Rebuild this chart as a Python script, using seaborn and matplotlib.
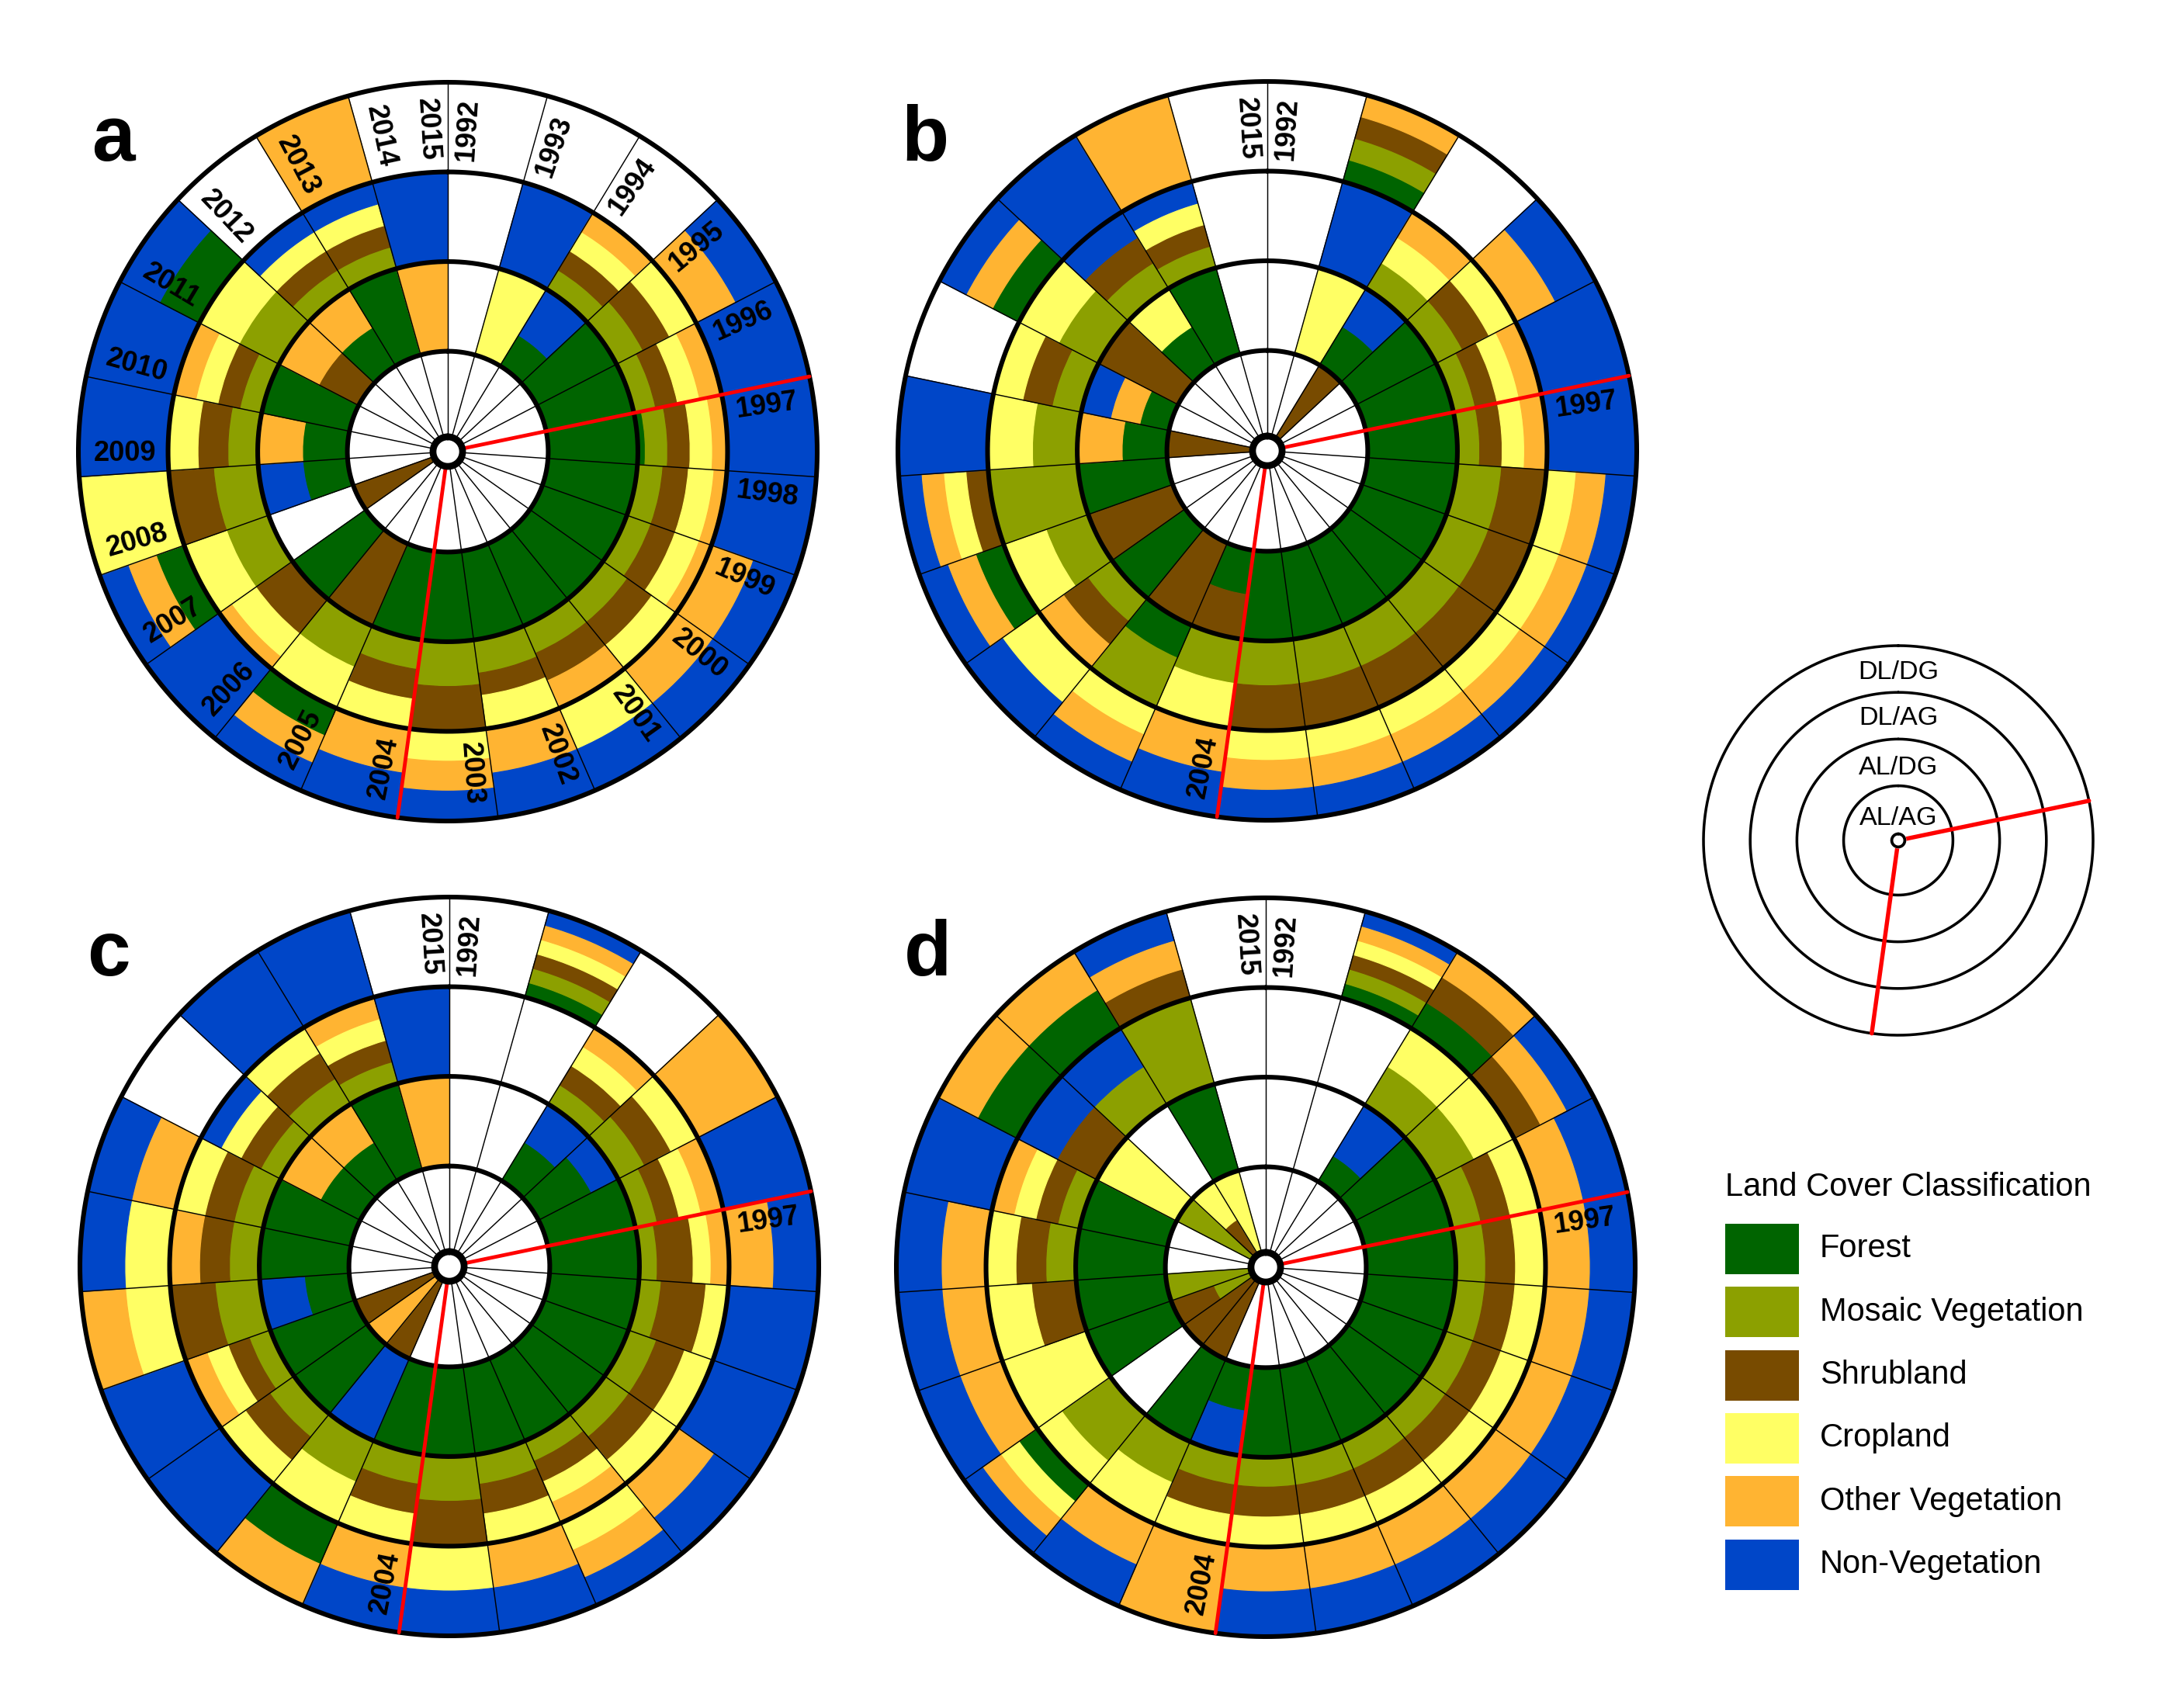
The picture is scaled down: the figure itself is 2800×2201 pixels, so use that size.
"""
Vòng tròn phân loại lớp phủ đất theo từng giai đoạn năm (1992-2015).
Bốn bảng a-d, mỗi bảng 4 vòng: AL/AG, AL/DG, DL/AG, DL/DG.
"""
import numpy as np
import matplotlib
matplotlib.use("Agg")
import matplotlib.pyplot as plt
from matplotlib.patches import Rectangle
import seaborn as sns

YEARS = list(range(1992, 2016))
MARK_YEARS = [1997, 2004]
RING_NAMES = ["AL/AG", "AL/DG", "DL/AG", "DL/DG"]
CLASS_CODES = ["F", "M", "S", "C", "O", "N"]
CLASS_NAMES = ["Forest", "Mosaic Vegetation", "Shrubland", "Cropland",
               "Other Vegetation", "Non-Vegetation"]
CLASS_COLORS = ["#006400", "#8ca000", "#784b00", "#ffff64", "#ffb432", "#0046c8"]

# Mỗi ô = một giai đoạn (năm -> năm sau); tỉ lệ lớp = số ký tự / độ dài chuỗi.
# "" = ô trống (trắng).
A_ALAG = ["", "", "", "", "", "", "", "", "", "", "", "",
          "", "", "", "S", "", "", "", "", "", "", ""]
A_ALDG = ["", "C", "FFNNN", "F", "F", "F", "F", "F", "F", "F", "F", "F",
          "F", "S", "F", "", "FN", "FO", "F", "SO", "FO", "F", "O"]
A_DLAG = ["", "N", "MSCO", "MSC", "MSCO", "FMMMSSSCCCOO", "MMSSCCO", "MMSSCCO",
          "MSC", "MSO", "MMMSSCCC", "MS", "MSC", "MC", "SSSCCO", "MC", "MS",
          "MSC", "MSCO", "MC", "MSCN", "MSCN", "N"]
A_DLDG = ["", "", "", "ON", "N", "N", "N", "ON", "ON", "CN", "ON", "CON",
          "ON", "FON", "N", "FON", "C", "N", "N", "FN", "", "O", ""]

B_ALAG = ["", "", "S", "", "", "", "", "", "", "", "", "",
          "", "", "", "", "", "S", "", "", "", "", ""]
B_ALDG = ["", "C", "FN", "F", "F", "F", "F", "F", "F", "F", "F", "F",
          "FS", "S", "F", "S", "F", "FO", "FON", "S", "FC", "F", ""]
B_DLAG = ["", "N", "MCO", "MSC", "MSCO", "MSCO", "MS", "MS", "MS",
          "MS", "MS", "MS", "MC", "FFMMM", "MSO", "MC", "M", "MC", "MSC",
          "MC", "MSN", "MSCN", ""]
B_DLDG = ["", "FMSO", "", "ON", "N", "N", "CON", "CON", "CON", "CON",
          "CON", "CON", "ON", "CON", "CN", "FON", "SCON", "N", "", "FON",
          "N", "O", ""]

C_ALAG = ["", "", "", "", "", "", "", "", "", "", "", "",
          "", "S", "O", "S", "", "", "", "", "", "", ""]
C_ALDG = ["", "", "FN", "FFN", "F", "F", "F", "F", "F", "F", "F", "F",
          "F", "N", "F", "F", "FN", "F", "F", "FO", "FO", "F", "O"]
C_DLAG = ["", "", "MSCO", "MSC", "MSCO", "MSSCO", "MSSC", "MSC", "MSC",
          "MSCO", "MSC", "MS", "MSC", "MC", "MSC", "MSCO", "MS", "MSO",
          "MSC", "MSCN", "MSC", "MSCO", "N"]
C_DLDG = ["", "FMSCON", "", "O", "N", "ON", "N", "N", "ON", "CON", "ON",
          "CN", "ON", "FO", "N", "N", "CO", "CN", "ON", "", "N", "N", ""]

D_ALAG = ["", "", "", "", "", "", "", "", "", "", "", "",
          "", "S", "S", "MS", "M", "", "", "M", "SC", "C", ""]
D_ALDG = ["", "", "FNN", "F", "F", "F", "F", "F", "F", "F", "F", "F",
          "FN", "F", "", "F", "F", "F", "F", "C", "", "F", ""]
D_DLAG = ["", "", "MC", "MC", "MSC", "MSC", "MSC", "MSC", "MSC", "MSC",
          "MSC", "MSC", "MSC", "MC", "MMC", "C", "SC", "MSC", "MSCO", "SN",
          "MN", "M", ""]
D_DLDG = ["", "FMSCON", "FSO", "SON", "ON", "ON", "ON", "ON", "ON", "ON",
          "ON", "ON", "O", "ON", "FCON", "ON", "ON", "ON", "N", "FO", "FO",
          "SON", ""]

PANELS = {
    "a": [A_ALAG, A_ALDG, A_DLAG, A_DLDG],
    "b": [B_ALAG, B_ALDG, B_DLAG, B_DLDG],
    "c": [C_ALAG, C_ALDG, C_DLAG, C_DLDG],
    "d": [D_ALAG, D_ALDG, D_DLAG, D_DLDG],
}
PANEL_LABEL_YEARS = {
    "a": YEARS,
    "b": [1992, 1997, 2004, 2015],
    "c": [1992, 1997, 2004, 2015],
    "d": [1992, 1997, 2004, 2015],
}

# --- bố cục (pixel của ảnh 2800x2201) ---
W, H, DPI = 2800, 2201, 300
PANEL_POS = {"a": (577, 582), "b": (1633, 581), "c": (579, 1632), "d": (1631, 1633)}
PANEL_R = 476
LETTER_POS = {"a": (118, 207), "b": (1161, 207), "c": (112, 1257), "d": (1165, 1257)}
HOLE = 0.12
RMAX = HOLE + 4
LABEL_R = HOLE + 3.48
LABEL_SHIFT = 3.6

sns.set_theme(style="white")
plt.rcParams["font.family"] = ["Liberation Sans", "DejaVu Sans"]
plt.rcParams["text.color"] = "black"
palette = dict(zip(CLASS_CODES, sns.color_palette(CLASS_COLORS)))

theta = np.deg2rad(np.linspace(0, 360, len(YEARS)))
tt = np.linspace(0, 2 * np.pi, 600)

fig = plt.figure(figsize=(W / DPI, H / DPI), dpi=DPI)


def tao_truc_cuc(cx, cy, radius):
    ax = fig.add_axes([(cx - radius) / W, 1 - (cy + radius) / H,
                       2 * radius / W, 2 * radius / H], projection="polar")
    ax.set_theta_zero_location("N")
    ax.set_theta_direction(-1)
    ax.set_axis_off()
    return ax


def ve_panel(ax, rings, label_years):
    for k, cells in enumerate(rings):
        for j, cell in enumerate(cells):
            if not cell:
                continue
            bottom = HOLE + k
            for code in CLASS_CODES:
                frac = cell.count(code) / len(cell)
                if frac > 0:
                    ax.bar(theta[j], frac, width=theta[j + 1] - theta[j], bottom=bottom,
                           align="edge", color=palette[code], edgecolor=palette[code],
                           linewidth=0.3, zorder=2)
                    bottom += frac

    # đường chia giai đoạn
    for t in theta[:-1]:
        ax.plot([t, t], [HOLE, RMAX], color="black", lw=0.35, zorder=3)
    # vòng tròn đậm
    for k in range(1, 5):
        ax.plot(tt, np.full_like(tt, HOLE + k), color="black", lw=1.45,
                zorder=4, clip_on=False)
    # năm đánh dấu
    for y in MARK_YEARS:
        t = theta[YEARS.index(y)]
        ax.plot([t, t], [0.165, RMAX], color="red", lw=1.15, zorder=5, clip_on=False)
    # lỗ giữa
    ax.fill(tt, np.full_like(tt, 0.165), color="white", zorder=6)
    ax.plot(tt, np.full_like(tt, 0.165), color="black", lw=2.1, zorder=7)

    for y in label_years:
        i = YEARS.index(y)
        deg = np.degrees(theta[i]) + (LABEL_SHIFT if i < len(YEARS) - 1 else -LABEL_SHIFT)
        rot = 90 - deg if deg <= 180 else 270 - deg
        ax.text(np.radians(deg), LABEL_R, str(y), rotation=rot, rotation_mode="anchor",
                ha="center", va="center", fontsize=8.7, fontweight="bold",
                color="black", zorder=8)
    ax.set_ylim(0, RMAX)


for name, rings in PANELS.items():
    cx, cy = PANEL_POS[name]
    ax = tao_truc_cuc(cx, cy, PANEL_R)
    ve_panel(ax, rings, PANEL_LABEL_YEARS[name])
    lx, ly = LETTER_POS[name]
    fig.text(lx / W, 1 - ly / H, name, fontsize=24, fontweight="bold",
             ha="left", va="baseline", color="black")

# --- chú giải vòng ---
LEG_HOLE = 0.17
LEG_RMAX = LEG_HOLE + 4
LEG_LABEL_R = [0.47, 1.56, 2.61, 3.59]
axl = tao_truc_cuc(2446, 1083, 251)
for k in range(1, 5):
    axl.plot(tt, np.full_like(tt, LEG_HOLE + k), color="black", lw=0.85,
             zorder=3, clip_on=False)
for y in MARK_YEARS:
    t = theta[YEARS.index(y)]
    axl.plot([t, t], [0.14, LEG_RMAX], color="red", lw=1.3, zorder=4, clip_on=False)
axl.fill(tt, np.full_like(tt, 0.14), color="white", zorder=5)
axl.plot(tt, np.full_like(tt, 0.14), color="black", lw=0.9, zorder=6)
for k, ring in enumerate(RING_NAMES):
    axl.text(0, LEG_LABEL_R[k], ring, ha="center", va="center", fontsize=8.2,
             color="black", zorder=7)
axl.set_ylim(0, LEG_RMAX)

# --- chú giải màu ---
fig.text(2223 / W, 1 - 1530 / H, "Land Cover Classification", fontsize=10,
         ha="left", va="center", color="black")
for k, (code, label) in enumerate(zip(CLASS_CODES, CLASS_NAMES)):
    top = 1577 + 81.3 * k
    fig.add_artist(Rectangle((2223 / W, 1 - (top + 65) / H), 95 / W, 65 / H,
                             transform=fig.transFigure, facecolor=palette[code],
                             edgecolor="none"))
    fig.text(2345 / W, 1 - (top + 32.5) / H, label, fontsize=10, ha="left",
             va="center", color="black")

fig.savefig("out.png", dpi=DPI, facecolor="white")
plt.close(fig)
